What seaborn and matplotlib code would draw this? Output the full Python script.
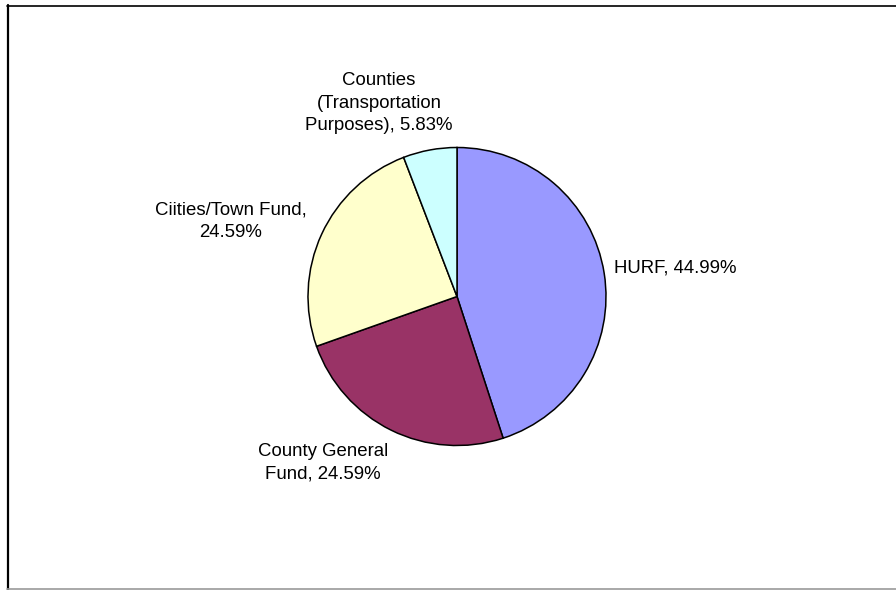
import matplotlib
matplotlib.use("Agg")
import matplotlib.pyplot as plt
import seaborn as sns
from matplotlib.lines import Line2D

sns.set_theme(style="white")
plt.rcParams["font.family"] = ["Liberation Sans", "DejaVu Sans"]

# Fund distribution shares (percent)
categories = ["HURF", "County General Fund", "Ciities/Town Fund",
              "Counties (Transportation Purposes)"]
shares = [44.99, 24.59, 24.59, 5.83]
label_lines = [
    "HURF, 44.99%",
    "County General\nFund, 24.59%",
    "Ciities/Town Fund,\n24.59%",
    "Counties\n(Transportation\nPurposes), 5.83%",
]
colors = ["#9999FF", "#993366", "#FFFFCC", "#CCFFFF"]

W, H = 896, 590
fig = plt.figure(figsize=(W / 100, H / 100), dpi=100)
fig.patch.set_facecolor("white")
ax = fig.add_axes([0, 0, 1, 1])

cx, cy, r = 457, H - 296.5, 149
ax.pie(shares, colors=colors, startangle=90, counterclock=False,
       center=(cx, cy), radius=r, frame=True,
       wedgeprops=dict(edgecolor="black", linewidth=1.1))
ax.set_xlim(0, W)
ax.set_ylim(0, H)
ax.set_aspect("equal")
ax.axis("off")

# label placement (pixel space, y measured from top)
label_pos = [(675, 268), (323, 463), (231, 221), (379, 103)]
for text, (x, y) in zip(label_lines, label_pos):
    ax.text(x, H - y, text, ha="center", va="center", fontsize=13.4,
            color="black", linespacing=1.42)

# chart frame
fig.add_artist(Line2D([7.5 / W, 7.5 / W], [0, 1 - 5 / H], color="black",
                      linewidth=1.6, transform=fig.transFigure))
fig.add_artist(Line2D([7 / W, 1], [1 - 5.5 / H, 1 - 5.5 / H], color="black",
                      linewidth=1.2, transform=fig.transFigure))
fig.add_artist(Line2D([7 / W, 1], [1 - 589 / H, 1 - 589 / H], color="#999999",
                      linewidth=1.2, transform=fig.transFigure))

fig.savefig("out.png", dpi=100, facecolor="white")
